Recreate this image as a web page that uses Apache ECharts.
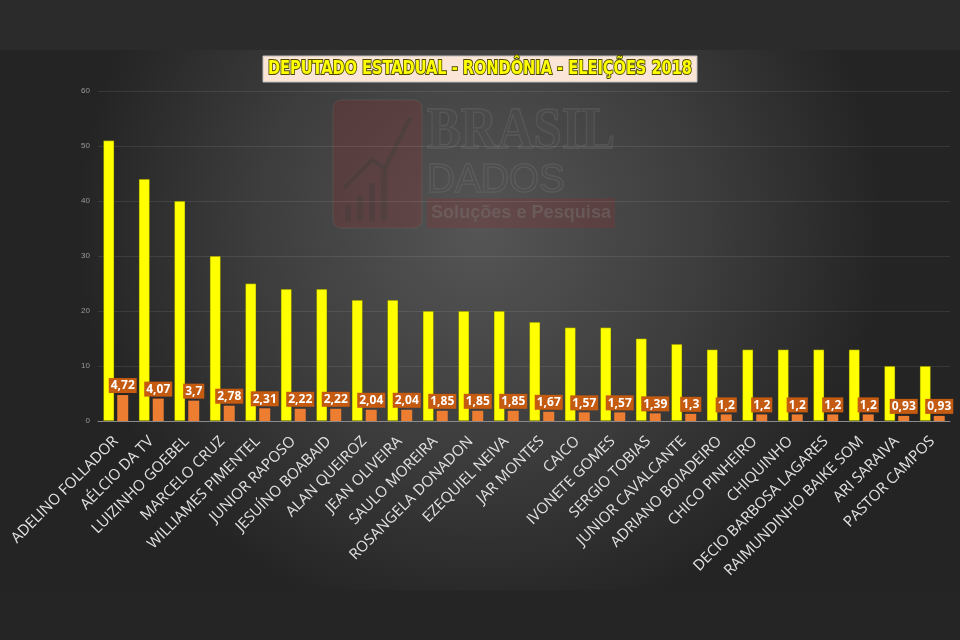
<!DOCTYPE html>
<html><head><meta charset="utf-8">
<script src="https://cdn.jsdelivr.net/npm/echarts@6/dist/echarts.min.js"></script>
<style>html,body{margin:0;padding:0;background:#2b2b2b}#c{width:960px;height:640px}</style>
</head><body><div id="c"></div>
<script>
var categories = ['ADELINO FOLLADOR','AÉLCIO DA TV','LUIZINHO GOEBEL','MARCELO CRUZ','WILLIAMES PIMENTEL','JUNIOR RAPOSO','JESUÍNO BOABAID','ALAN QUEIROZ','JEAN OLIVEIRA','SAULO MOREIRA','ROSANGELA DONADON','EZEQUIEL NEIVA','JAR MONTES','CAICO','IVONETE GOMES','SERGIO TOBIAS','JUNIOR CAVALCANTE','ADRIANO BOIADEIRO','CHICO PINHEIRO','CHIQUINHO','DECIO BARBOSA LAGARES','RAIMUNDINHO BAIKE SOM','ARI SARAIVA','PASTOR CAMPOS'];
var yellowValues = [51,44,40,30,25,24,24,22,22,20,20,20,18,17,17,15,14,13,13,13,13,13,10,10];
var orangeValues = [4.72,4.07,3.7,2.78,2.31,2.22,2.22,2.04,2.04,1.85,1.85,1.85,1.67,1.57,1.57,1.39,1.3,1.2,1.2,1.2,1.2,1.2,0.93,0.93];
var titleText = 'DEPUTADO ESTADUAL - RONDÔNIA - ELEIÇÕES 2018';

function fitScale(text, font, target){
  var cv = document.createElement('canvas').getContext('2d');
  cv.font = font;
  var w = cv.measureText(text).width;
  return w > 0 ? target / w : 1;
}
var titleFont = 'bold 20px "DejaVu Sans Condensed","Liberation Sans Narrow",sans-serif';
var brasilFont = 'bold 60px "Liberation Serif", serif';
var dadosFont = '40px "Liberation Sans", sans-serif';
var solFont = 'bold 19px "Liberation Sans", sans-serif';

var chart = echarts.init(document.getElementById('c'), null, {renderer:'canvas'});
chart.setOption({
  animation:false,
  backgroundColor:'#2b2b2b',
  graphic:[
    {type:'rect', z:-100, silent:true, shape:{x:0,y:50,width:960,height:540},
     style:{fill:new echarts.graphic.RadialGradient(0.5,0.33,0.75,[{offset:0,color:'#555555'},{offset:0.55,color:'#3d3d3d'},{offset:1,color:'#242424'}])}},
    {type:'rect', z:-100, silent:true, shape:{x:0,y:590,width:960,height:50}, style:{fill:'#252525'}},
    // watermark
    {type:'rect', z:-50, silent:true, shape:{x:333,y:100,width:89,height:128,r:8}, style:{fill:'rgba(140,45,45,0.28)', stroke:'rgba(120,120,120,0.25)', lineWidth:1}},
    {type:'polyline', z:-49, silent:true, shape:{points:[[344,188],[372,160],[385,168],[410,118]]}, style:{stroke:'rgba(60,60,60,0.35)', lineWidth:4, fill:null}},
    {type:'rect', z:-49, silent:true, shape:{x:345,y:205,width:6,height:16}, style:{fill:'rgba(60,60,60,0.3)'}},
    {type:'rect', z:-49, silent:true, shape:{x:357,y:195,width:6,height:26}, style:{fill:'rgba(60,60,60,0.3)'}},
    {type:'rect', z:-49, silent:true, shape:{x:369,y:183,width:6,height:38}, style:{fill:'rgba(60,60,60,0.3)'}},
    {type:'rect', z:-49, silent:true, shape:{x:381,y:170,width:6,height:51}, style:{fill:'rgba(60,60,60,0.3)'}},
    {type:'text', z:-50, silent:true, x:427, y:102, scaleX:fitScale('BRASIL', brasilFont, 188),
      style:{x:0,y:0,text:'BRASIL', font:brasilFont, fill:'rgba(80,80,80,0.3)', stroke:'rgba(130,130,130,0.3)', lineWidth:1.5}},
    {type:'text', z:-50, silent:true, x:427, y:161, scaleX:fitScale('DADOS', dadosFont, 138),
      style:{x:0,y:0,text:'DADOS', font:dadosFont, fill:'rgba(80,80,80,0.3)', stroke:'rgba(130,130,130,0.3)', lineWidth:1.5}},
    {type:'rect', z:-50, silent:true, shape:{x:427,y:198,width:188,height:30}, style:{fill:'rgba(140,45,45,0.28)'}},
    {type:'text', z:-49, silent:true, x:431, y:203, scaleX:fitScale('Soluções e Pesquisa', solFont, 180),
      style:{x:0,y:0,text:'Soluções e Pesquisa', font:solFont, fill:'rgba(130,130,130,0.35)'}},
    // title box
    {type:'rect', z:10, silent:true, shape:{x:263,y:56,width:434,height:26}, style:{fill:'#fbe5d6', stroke:'#bfbfbf', lineWidth:1}},
    {type:'text', z:11, silent:true, x:480, y:69, scaleX:fitScale(titleText, titleFont, 424),
      style:{x:0,y:0,text:titleText, align:'center', verticalAlign:'middle',
      font:titleFont, fill:'#ffff00', stroke:'#4a4a00', lineWidth:2}}
  ],
  grid:{left:98, right:10, top:91, bottom:219, containLabel:false},
  xAxis:{type:'category', data:categories,
    axisLine:{lineStyle:{color:'#8a8a8a', width:1}}, axisTick:{show:false},
    axisLabel:{rotate:45, interval:0, color:'#e2e2e2', fontSize:15, margin:18, fontFamily:'"Open Sans", sans-serif'}},
  yAxis:{type:'value', min:0, max:60, interval:10,
    axisLine:{show:false}, axisTick:{show:false},
    axisLabel:{color:'#9a9a9a', fontSize:8, margin:8},
    splitLine:{lineStyle:{color:'rgba(255,255,255,0.09)', width:1}}},
  series:[
    {type:'bar', data:yellowValues, barWidth:11, barGap:'27%', itemStyle:{color:'#ffff00', borderColor:'rgba(90,90,0,0.7)', borderWidth:0.6}},
    {type:'bar', data:orangeValues, barWidth:11, itemStyle:{color:'#ed7d31'},
     label:{show:true, position:'top', distance:2, color:'#ffffff', fontWeight:'bold', fontSize:12,
       fontFamily:'"Open Sans", sans-serif', backgroundColor:'#c55a11', padding:[2,2,1,2],
       formatter:function(p){return String(p.value).replace('.', ',');}}}
  ]
});
</script></body></html>
